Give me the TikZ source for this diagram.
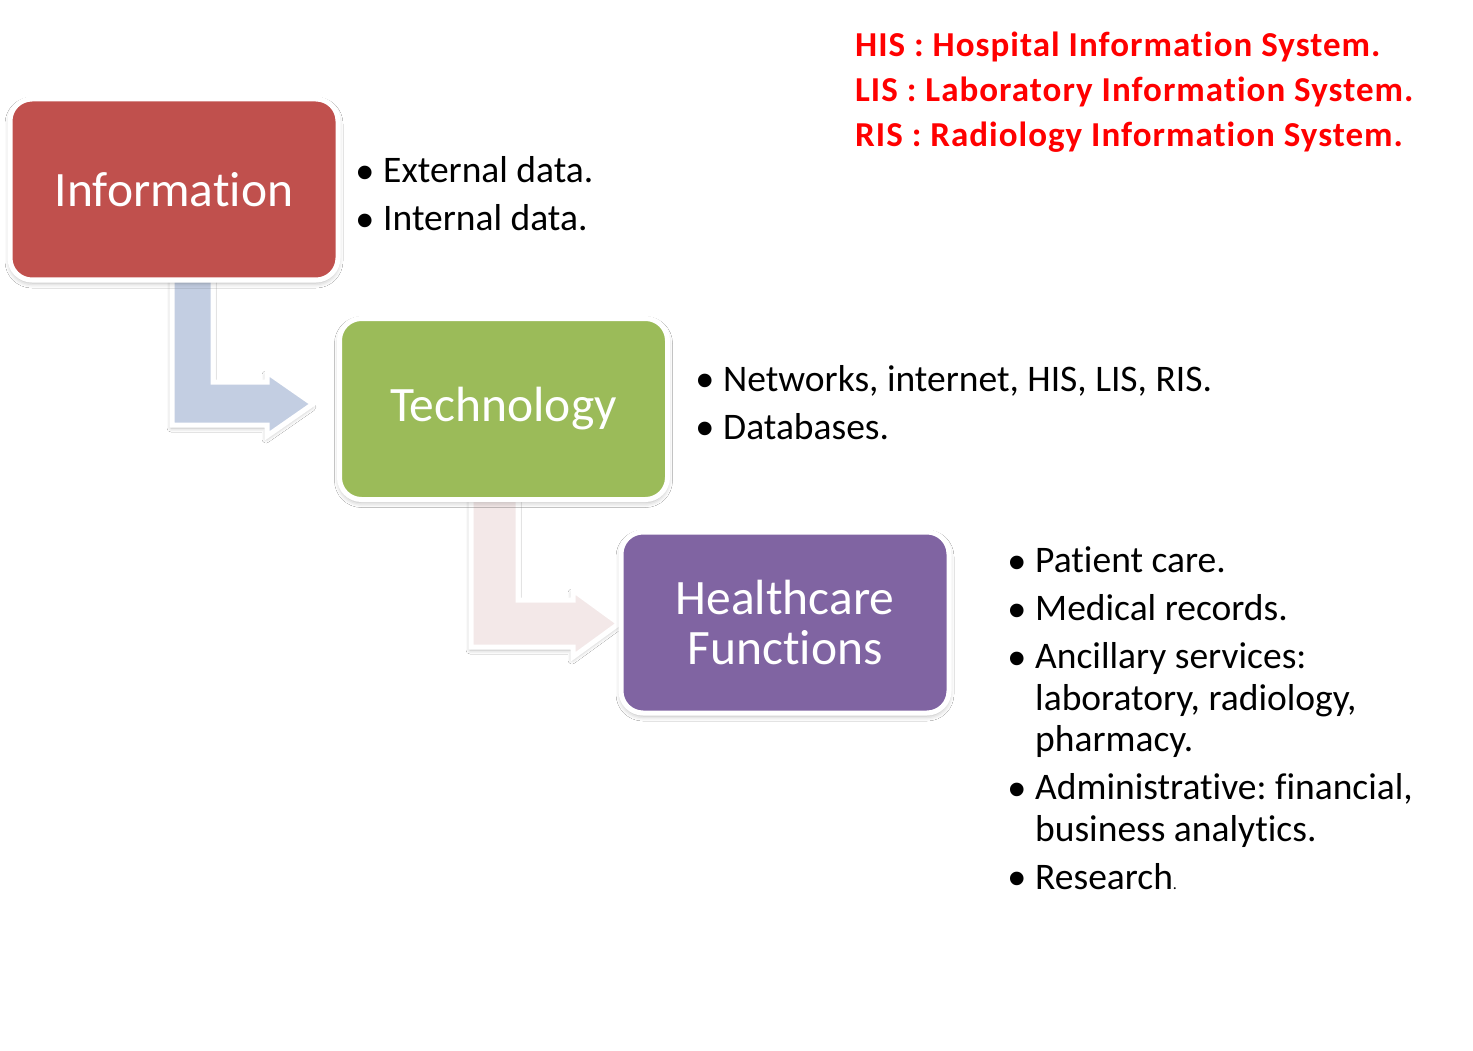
\documentclass[tikz,border=0pt]{standalone}
\usepackage{fontspec}
\setmainfont{Carlito}[Ligatures={NoCommon}]
\newfontfamily\bulletfont{Liberation Sans}
\usetikzlibrary{shadows.blur}
\frenchspacing

\definecolor{infored}{HTML}{C0504D}
\definecolor{techgreen}{HTML}{9BBB59}
\definecolor{healthpurple}{HTML}{8064A2}
\definecolor{arrowblue}{HTML}{C3CEE2}
\definecolor{arrowpink}{HTML}{F3E8E8}

% one bullet line and one continuation line of a list
\newcommand{\bitem}[1]{\makebox[26pt][l]{\bulletfont\fontsize{50}{50}\selectfont\hspace*{-1pt}\raisebox{-6.5pt}{•}}#1}
\newcommand{\bcont}[1]{\hspace*{26pt}#1}

\begin{document}
\begin{tikzpicture}[x=1pt,y=-1pt,
  stagebox/.style={rounded corners=22pt, draw=white, line width=5pt,
    minimum width=328pt, minimum height=181pt, inner sep=0pt,
    text=white, align=center, font=\fontsize{49.5}{50}\selectfont,
    blur shadow={shadow xshift=0pt, shadow yshift=-3pt,
      shadow blur radius=5pt, shadow opacity=30}},
  bentarrow/.style={draw=white, line width=5pt, line join=miter,
    blur shadow={shadow xshift=-1pt, shadow yshift=-3pt,
      shadow blur radius=4pt, shadow opacity=30}},
  % lists are placed by the baseline of their last line
  bullets/.style={anchor=base west, inner sep=0pt, align=left,
    font=\fontsize{37.5}{41.5}\selectfont},
  legend/.style={anchor=base west, inner sep=0pt, align=left,
    text=red, font=\bfseries\fontsize{35}{45}\selectfont\addfontfeatures{LetterSpace=2.9}}]

\useasboundingbox (0,0) rectangle (1473,1051);
\fill[white] (0,0) rectangle (1473,1051);

% bent arrows between the stages (drawn first, tucked under the boxes)
\draw[bentarrow, fill=arrowblue]
  (172,262) -- (213,262) -- (213,382) -- (267,382) -- (267,372)
  -- (313,404) -- (267,436) -- (267,425) -- (172,425) -- cycle;
\draw[bentarrow, fill=arrowpink]
  (471,482) -- (518,482) -- (518,600) -- (573,600) -- (573,590)
  -- (619,623.5) -- (573,657) -- (573,647) -- (471,647) -- cycle;

% stage boxes
\node[stagebox, fill=infored] (info) at (174,189.5) {Information};
\node[stagebox, fill=techgreen] (tech) at (503.5,409) {Technology};
\node[stagebox, fill=healthpurple] (health) at (785,622.5) {Healthcare\\Functions};

% bullet lists
\node[bullets] (infolist) at (357,231)
  {\bitem{External data.}\\[6.5pt]\bitem{Internal data.}};
\node[bullets] (techlist) at (697,439)
  {\bitem{Networks, internet, HIS, LIS, RIS.}\\[6.5pt]\bitem{Databases.}};
\node[bullets] (healthlist) at (1009,889)
  {\bitem{Patient care.}\\[6.5pt]
   \bitem{Medical records.}\\[6.5pt]
   \bitem{Ancillary services:}\\
   \bcont{laboratory, radiology,}\\
   \bcont{pharmacy.}\\[6.5pt]
   \bitem{Administrative: financial,}\\
   \bcont{business analytics.}\\[6.5pt]
   \bitem{Research{\fontsize{16}{16}\selectfont.}}};

% abbreviations
\node[legend] (abbrev) at (855,147)
  {HIS : Hospital Information System.\\
   LIS : Laboratory Information System.\\
   RIS : Radiology Information System.};
\end{tikzpicture}
\end{document}
